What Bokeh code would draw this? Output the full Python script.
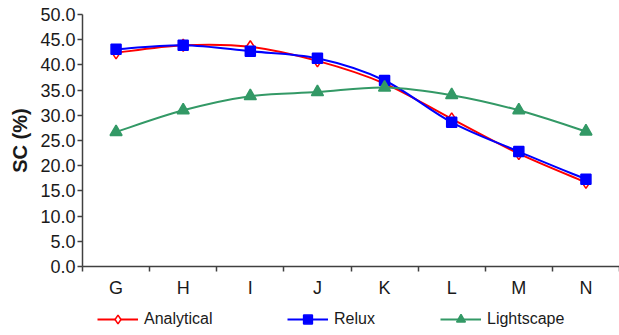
from bokeh.plotting import figure
from bokeh.layouts import column
from bokeh.models import Range1d, FixedTicker, NumeralTickFormatter, Legend, LegendItem
from bokeh.embed import file_html
from bokeh.resources import INLINE
import numpy as np

categories = ["G", "H", "I", "J", "K", "L", "M", "N"]
analytical = [42.4, 43.9, 43.6, 40.8, 36.3, 29.3, 22.4, 16.7]
relux = [43.1, 43.9, 42.7, 41.3, 36.9, 28.6, 22.8, 17.3]
lightscape = [26.7, 31.0, 33.8, 34.6, 35.5, 34.0, 31.0, 26.8]
y_ticks = [0, 5, 10, 15, 20, 25, 30, 35, 40, 45, 50]

FONT = "Liberation Sans"
TXT = "#1a1a1a"

p = figure(width=619, height=300, output_backend="svg", toolbar_location=None,
           x_range=Range1d(0, len(categories)), y_range=Range1d(0, 50),
           min_border_left=82, min_border_right=0, min_border_top=14, min_border_bottom=31)
p.outline_line_color = None
p.xgrid.visible = False
p.ygrid.visible = False

xs = np.arange(len(categories)) + 0.5


def smooth(vals):
    x = np.asarray(xs, float)
    y = np.asarray(vals, float)
    n = len(x)
    xe = np.concatenate([[x[0]], x, [x[-1]]])
    ye = np.concatenate([[y[0]], y, [y[-1]]])
    t = 1.0 / 6.0
    x0, y0 = x[:-1], y[:-1]
    x1, y1 = x[1:], y[1:]
    cx0 = x0 + (xe[2:n + 1] - xe[0:n - 1]) * t
    cy0 = y0 + (ye[2:n + 1] - ye[0:n - 1]) * t
    cx1 = x1 - (xe[3:n + 2] - xe[1:n]) * t
    cy1 = y1 - (ye[3:n + 2] - ye[1:n]) * t
    return dict(x0=x0, y0=y0, x1=x1, y1=y1, cx0=cx0, cy0=cy0, cx1=cx1, cy1=cy1)


series = [
    ("Analytical", analytical, "#ff0000", "diamond", 12, "white"),
    ("Relux", relux, "#0000ff", "square", 10, "#0000ff"),
    ("Lightscape", lightscape, "#339966", "triangle", 12, "#339966"),
]

for name, vals, col, mk, sz, fill in series:
    p.bezier(line_color=col, line_width=2, **smooth(vals))
    p.scatter(xs, vals, marker=mk, size=sz, line_color=col, fill_color=fill, line_width=1.5)

# Axes
p.yaxis.ticker = FixedTicker(ticks=y_ticks)
p.yaxis.formatter = NumeralTickFormatter(format="0.0")
p.yaxis.axis_label = "SC (%)"
p.yaxis.axis_label_text_font = FONT
p.yaxis.axis_label_text_font_style = "bold"
p.yaxis.axis_label_text_font_size = "20px"
p.yaxis.axis_label_text_color = TXT
p.yaxis.axis_label_standoff = 6
p.yaxis.major_label_text_font = FONT
p.yaxis.major_label_text_font_size = "18px"
p.yaxis.major_label_text_color = TXT
p.yaxis.major_label_standoff = 2
p.yaxis.major_tick_out = 5
p.yaxis.major_tick_in = 0
p.yaxis.minor_tick_out = 0
p.yaxis.minor_tick_in = 0
p.yaxis.axis_line_color = "#404040"
p.yaxis.axis_line_width = 1.5
p.yaxis.major_tick_line_color = "#404040"
p.yaxis.major_tick_line_width = 1.5

p.xaxis.ticker = FixedTicker(ticks=list(xs), minor_ticks=list(range(len(categories) + 1)))
p.xaxis.major_label_overrides = {float(v): c for v, c in zip(xs, categories)}
p.xaxis.major_label_text_font = FONT
p.xaxis.major_label_text_font_size = "18px"
p.xaxis.major_label_text_color = TXT
p.xaxis.major_label_standoff = 6
p.xaxis.major_tick_out = 0
p.xaxis.major_tick_in = 0
p.xaxis.minor_tick_out = 5
p.xaxis.minor_tick_in = 0
p.xaxis.axis_line_color = "#404040"
p.xaxis.axis_line_width = 1.5
p.xaxis.minor_tick_line_color = "#404040"
p.xaxis.minor_tick_line_width = 1.5

# Legend strip (its data lie outside its ranges, so only the legend shows)
lf = figure(width=619, height=35, output_backend="svg", toolbar_location=None,
            x_range=Range1d(1000, 1001), y_range=Range1d(1000, 1001),
            min_border_left=0, min_border_right=0, min_border_top=0, min_border_bottom=0)
lf.axis.visible = False
lf.grid.visible = False
lf.outline_line_color = None

offsets = [15, 205, 358]
for (name, vals, col, mk, sz, fill), xo in zip(series, offsets):
    ln = lf.line(xs, vals, line_color=col, line_width=2)
    mr = lf.scatter(xs, vals, marker=mk, line_color=col, fill_color=fill, line_width=1.5)
    lg = Legend(items=[LegendItem(label=name, renderers=[ln, mr], index=0)], location=(xo, 5),
                orientation="horizontal", padding=0, margin=0, spacing=0,
                glyph_width=41, glyph_height=22, label_height=20, label_standoff=6,
                label_text_font=FONT, label_text_font_size="16px", label_text_color=TXT,
                border_line_color=None, background_fill_alpha=0)
    lf.add_layout(lg, "center")

open("out.html", "w").write(file_html(column(p, lf, spacing=0), INLINE))
